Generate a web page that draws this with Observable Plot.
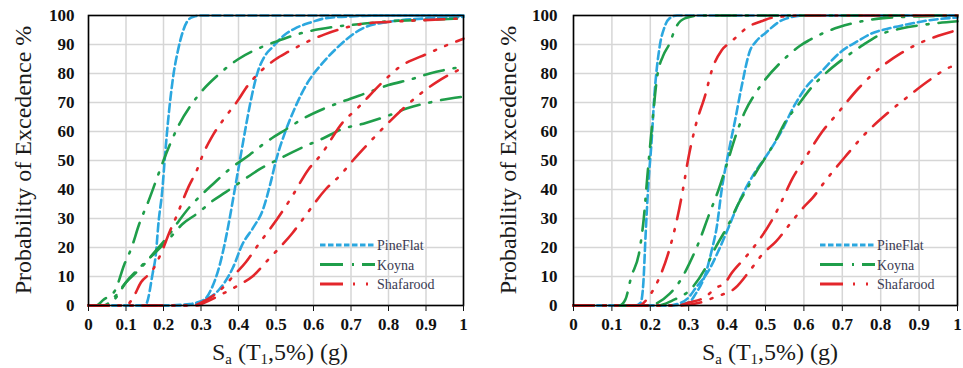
<!DOCTYPE html>
<html><head><meta charset="utf-8">
<script src="https://cdn.jsdelivr.net/npm/d3@7"></script>
<script src="https://cdn.jsdelivr.net/npm/@observablehq/plot@0.6"></script>
<style>
html,body{margin:0;padding:0;background:#fff;}
.ttl{position:absolute;white-space:nowrap;font-family:'Liberation Serif';font-size:24px;color:#1a1a1a;line-height:1;}
.yt{transform:translate(-50%,-50%) rotate(-90deg);top:160px;}
.xt{transform:translateX(-50%);top:340px;}
.xt sub{font-size:0.62em;vertical-align:-0.3em;line-height:0;}
.leg{position:absolute;top:0;overflow:visible;}
</style>
</head><body>
<div id="wrap" style="position:relative;width:963px;height:368px;overflow:hidden;font-family:'Liberation Serif'">
  <div id="pL" style="position:absolute;top:0;left:0;width:480px;height:368px"></div>
  <div id="pR" style="position:absolute;top:0;left:483px;width:480px;height:368px"></div>
  <div class="ttl yt" style="left:23px">Probability of Excedence %</div>
  <div class="ttl xt" style="left:280px">S<sub>a</sub> (T<sub>1</sub>,5%) (g)</div>
  <div class="ttl yt" style="left:508px">Probability of Excedence %</div>
  <div class="ttl xt" style="left:770px">S<sub>a</sub> (T<sub>1</sub>,5%) (g)</div>
  <svg class="leg" style="left:0" width="480" height="368">
    <line x1="320" x2="375" y1="245" y2="245" stroke="#2ba7df" stroke-width="3" stroke-dasharray="5.5,2.5"/>
    <line x1="320" x2="375" y1="264.5" y2="264.5" stroke="#1f9e4a" stroke-width="3" stroke-dasharray="23,9,2,8,40"/>
    <line x1="320" x2="375" y1="284" y2="284" stroke="#e3262b" stroke-width="3" stroke-dasharray="23,10,2,11,2,40"/>
    <text x="377" y="250" font-family="Liberation Serif" font-size="14" fill="#3a3a52">PineFlat</text>
    <text x="377" y="269.5" font-family="Liberation Serif" font-size="14" fill="#3a3a52">Koyna</text>
    <text x="377" y="289" font-family="Liberation Serif" font-size="14" fill="#3a3a52">Shafarood</text>
  </svg>
  <svg class="leg" style="left:483px" width="480" height="368">
    <line x1="337" x2="392" y1="245" y2="245" stroke="#2ba7df" stroke-width="3" stroke-dasharray="5.5,2.5"/>
    <line x1="337" x2="392" y1="264.5" y2="264.5" stroke="#1f9e4a" stroke-width="3" stroke-dasharray="23,9,2,8,40"/>
    <line x1="337" x2="392" y1="284" y2="284" stroke="#e3262b" stroke-width="3" stroke-dasharray="23,10,2,11,2,40"/>
    <text x="394" y="250" font-family="Liberation Serif" font-size="14" fill="#3a3a52">PineFlat</text>
    <text x="394" y="269.5" font-family="Liberation Serif" font-size="14" fill="#3a3a52">Koyna</text>
    <text x="394" y="289" font-family="Liberation Serif" font-size="14" fill="#3a3a52">Shafarood</text>
  </svg>
</div>
<script>
// ---- axis ticks ----
const xTicks = [0, 0.1, 0.2, 0.3, 0.4, 0.5, 0.6, 0.7, 0.8, 0.9, 1];
const xTickLabels = ["0", "0.1", "0.2", "0.3", "0.4", "0.5", "0.6", "0.7", "0.8", "0.9", "1"];
const yTicks = [0, 10, 20, 30, 40, 50, 60, 70, 80, 90, 100];
const seriesNames = ["PineFlat", "Koyna", "Shafarood"];

// ---- left panel curves: [Sa (g), probability %] ----
const leftPineFlat1 = [[0,0],[0.15,0],[0.156,1],[0.171,11],[0.179,17],[0.187,29],[0.197,40],[0.203,50],[0.211,62],[0.219,72],[0.227,80],[0.237,87],[0.253,95],[0.265,98.3],[0.28,99.6],[0.3,100],[1,100]];
const leftPineFlat2 = [[0,0],[0.25,0],[0.28,0.5],[0.3,1],[0.325,5],[0.35,14],[0.375,29],[0.39,40],[0.405,51],[0.42,62],[0.435,72],[0.45,80],[0.47,86],[0.49,89],[0.52,93],[0.55,95.5],[0.59,97.5],[0.63,99],[0.7,99.7],[0.8,100],[1,100]];
const leftPineFlat3 = [[0,0],[0.2,0],[0.27,0.5],[0.3,1.5],[0.345,5],[0.385,13],[0.41,21],[0.44,27],[0.465,33],[0.485,42],[0.5,50],[0.525,60],[0.55,68],[0.585,77],[0.62,83],[0.66,88.5],[0.69,92],[0.73,95.5],[0.8,97.8],[0.9,99],[1,99.5]];
const leftKoyna1 = [[0,0],[0.02,0],[0.04,2],[0.07,5],[0.095,14],[0.115,20],[0.135,28],[0.16,36],[0.18,43],[0.2,50],[0.24,62],[0.29,72],[0.35,80],[0.4,85],[0.46,89],[0.5,91],[0.57,94],[0.65,96],[0.72,97],[0.8,98],[0.9,98.5],[1,99]];
const leftKoyna2 = [[0,0],[0.04,0],[0.07,3],[0.1,8],[0.14,13],[0.18,19],[0.213,24],[0.24,29],[0.27,34],[0.3,38],[0.333,42],[0.376,47],[0.43,52],[0.47,56],[0.53,61],[0.573,64.5],[0.63,68],[0.685,70.7],[0.744,73.4],[0.8,76],[0.86,78],[0.91,80],[1,82.4]];
const leftKoyna3 = [[0,0],[0.05,0],[0.075,3],[0.1,8],[0.14,13.5],[0.18,18.5],[0.215,23],[0.25,28],[0.293,32],[0.33,36],[0.365,39],[0.41,43],[0.45,46.5],[0.5,50],[0.57,54.5],[0.625,57.6],[0.68,61],[0.733,62.7],[0.8,65.5],[0.85,68],[0.91,70],[0.965,71.4],[1,72]];
const leftShafarood1 = [[0,0],[0.1,0],[0.12,3],[0.14,8],[0.17,12],[0.2,20],[0.215,25],[0.232,30],[0.267,41],[0.29,47],[0.305,52],[0.333,59],[0.365,65],[0.4,71],[0.42,75],[0.453,80],[0.5,85],[0.533,87.5],[0.584,91],[0.63,93.5],[0.677,95.5],[0.725,97],[0.8,97.8],[0.877,98.3],[1,99]];
const leftShafarood2 = [[0,0],[0.28,0],[0.3,1],[0.357,6],[0.385,10],[0.42,15],[0.453,21],[0.504,30],[0.54,37],[0.587,47],[0.62,52],[0.677,63],[0.717,68],[0.784,77],[0.827,82],[0.907,87],[0.96,90],[1,92]];
const leftShafarood3 = [[0,0],[0.29,0],[0.304,0.7],[0.357,4],[0.4,7],[0.437,10],[0.477,15.5],[0.51,20],[0.544,25],[0.573,30],[0.632,40],[0.672,45],[0.705,50],[0.733,54],[0.773,59.5],[0.84,68],[0.885,73],[0.94,78],[1,82]];

// ---- right panel curves ----
const rightPineFlat1 = [[0,0],[0.16,0],[0.175,1],[0.182,8],[0.188,25],[0.195,42],[0.203,56],[0.211,73],[0.224,89],[0.237,96],[0.25,99],[0.27,100],[1,100]];
const rightPineFlat2 = [[0,0],[0.25,0],[0.3,1],[0.318,4],[0.344,11],[0.36,19],[0.373,27],[0.386,40],[0.404,53],[0.421,64],[0.437,75],[0.46,88],[0.475,91],[0.5,94],[0.545,98.5],[0.6,100],[1,100]];
const rightPineFlat3 = [[0,0],[0.25,0],[0.27,0.5],[0.3,2.8],[0.318,6],[0.352,12],[0.378,19],[0.404,27],[0.429,35],[0.455,42],[0.481,47.6],[0.494,50],[0.537,59],[0.578,69.6],[0.604,75],[0.648,81],[0.692,87],[0.743,91.4],[0.776,93.8],[0.82,95.5],[0.871,97],[0.923,98.3],[1,99.3]];
const rightKoyna1 = [[0,0],[0.12,0],[0.135,2],[0.15,9.7],[0.172,19],[0.183,30],[0.192,44],[0.206,64],[0.218,79],[0.233,86],[0.249,90],[0.267,96],[0.29,99],[0.33,100],[1,100]];
const rightKoyna2 = [[0,0],[0.2,0],[0.22,1],[0.25,4],[0.28,9],[0.3,14],[0.327,22],[0.352,31],[0.378,40],[0.4,49],[0.421,58],[0.447,67],[0.473,73],[0.494,77],[0.553,85.5],[0.589,89.5],[0.614,91.5],[0.643,93.5],[0.692,96],[0.751,98],[0.8,99],[0.9,99.7],[1,100]];
const rightKoyna3 = [[0,0],[0.22,0],[0.257,1.7],[0.308,6],[0.344,13],[0.37,20],[0.404,28],[0.429,35],[0.455,41],[0.48,47],[0.5,51],[0.527,57],[0.55,63],[0.584,69],[0.622,75.5],[0.656,80],[0.707,85.5],[0.75,89.5],[0.8,93.5],[0.853,95.5],[0.923,97],[1,98]];
const rightShafarood1 = [[0,0],[0.17,0],[0.198,3.4],[0.224,9.7],[0.249,19],[0.27,30],[0.285,40],[0.298,50],[0.318,62],[0.344,73],[0.36,81],[0.386,88],[0.411,91],[0.46,96.5],[0.489,98],[0.52,99.3],[0.6,100],[1,100]];
const rightShafarood2 = [[0,0],[0.27,0],[0.3,1],[0.344,3],[0.37,6],[0.396,8],[0.411,11],[0.447,16.5],[0.48,22],[0.515,29],[0.535,34],[0.571,44],[0.604,51],[0.648,60],[0.686,66],[0.743,75],[0.781,80],[0.853,87],[0.905,90.7],[0.95,93],[1,95]];
const rightShafarood3 = [[0,0],[0.28,0],[0.33,1],[0.37,3],[0.421,6],[0.463,12.7],[0.494,18],[0.527,22],[0.563,28],[0.6,34],[0.622,37],[0.656,43],[0.712,52],[0.751,58],[0.815,66],[0.861,71],[0.93,78],[0.977,82],[1,83]];

// ---- styles ----
const colors = {PineFlat: "#2ba7df", Koyna: "#1f9e4a", Shafarood: "#e3262b"};
const curveDash = {PineFlat: "8,4", Koyna: "20,10,2,10", Shafarood: "20,10,2,10,2,10"};

function toRows(curves) {
  const rows = [];
  curves.forEach(([series, pts], k) => pts.forEach(([x, y]) => rows.push({series, id: series + k, x, y})));
  return rows;
}

const leftRows = toRows([
  ["PineFlat", leftPineFlat1], ["PineFlat", leftPineFlat2], ["PineFlat", leftPineFlat3],
  ["Koyna", leftKoyna1], ["Koyna", leftKoyna2], ["Koyna", leftKoyna3],
  ["Shafarood", leftShafarood1], ["Shafarood", leftShafarood2], ["Shafarood", leftShafarood3]
]);
const rightRows = toRows([
  ["PineFlat", rightPineFlat1], ["PineFlat", rightPineFlat2], ["PineFlat", rightPineFlat3],
  ["Koyna", rightKoyna1], ["Koyna", rightKoyna2], ["Koyna", rightKoyna3],
  ["Shafarood", rightShafarood1], ["Shafarood", rightShafarood2], ["Shafarood", rightShafarood3]
]);

function makePanel(rows, host, width, marginLeft, marginRight, yPad) {
  const chart = Plot.plot({
    width, height: 368,
    marginLeft, marginRight, marginTop: 15, marginBottom: 63,
    x: {domain: [0, 1]},
    y: {domain: [0, 100]},
    style: "font-family:'Liberation Serif';font-size:17px;font-weight:bold;color:#111;background:transparent;overflow:visible;",
    marks: [
      Plot.gridX(xTicks, {stroke: "#d6d6d6", strokeOpacity: 1, strokeWidth: 1.5}),
      Plot.gridY(yTicks, {stroke: "#d6d6d6", strokeOpacity: 1, strokeWidth: 1.5}),
      ...seriesNames.map(s => Plot.line(rows.filter(d => d.series === s), {
        x: "x", y: "y", z: "id", stroke: colors[s], strokeWidth: 2.6,
        strokeDasharray: curveDash[s], curve: "monotone-x"
      })),
      Plot.frame({stroke: "#000", strokeWidth: 1.6}),
      Plot.axisX(xTicks, {tickSize: 6, tickPadding: 6, label: null, fontSize: 17, fontWeight: "bold",
        tickFormat: d => xTickLabels[xTicks.indexOf(d)]}),
      Plot.axisY(yTicks, {tickSize: 0, tickPadding: yPad, label: null, fontSize: 17, fontWeight: "bold"})
    ]
  });
  chart.setAttribute("font-family", "Liberation Serif");
  document.getElementById(host).appendChild(chart);
}

makePanel(leftRows, "pL", 480, 88, 17, 14);
makePanel(rightRows, "pR", 480, 90, 6, 16);
</script>
</body></html>
